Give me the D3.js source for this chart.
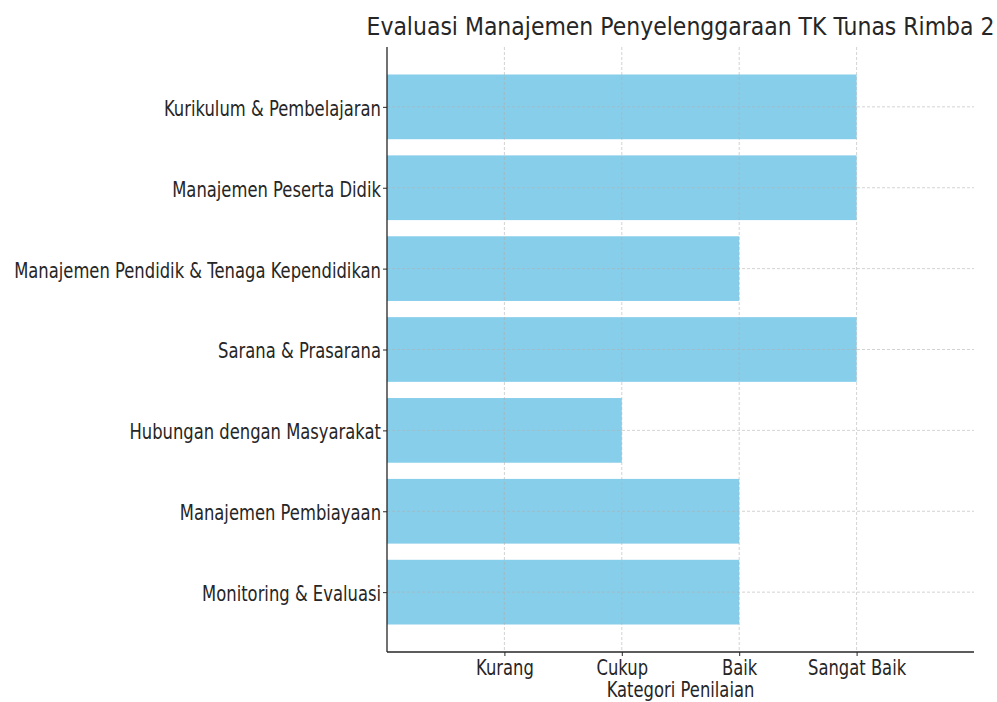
<!DOCTYPE html>
<html>
<head>
<meta charset="utf-8">
<script src="https://cdn.jsdelivr.net/npm/d3@7"></script>
<style>
  body { margin: 0; background: #fff; }
  text { font-family: "DejaVu Sans", sans-serif; fill: #262626; }
</style>
</head>
<body>
<div id="chart"></div>
<script>
const categories = [
  "Kurikulum & Pembelajaran",
  "Manajemen Peserta Didik",
  "Manajemen Pendidik & Tenaga Kependidikan",
  "Sarana & Prasarana",
  "Hubungan dengan Masyarakat",
  "Manajemen Pembiayaan",
  "Monitoring & Evaluasi"
];
const scores = [4, 4, 3, 4, 2, 3, 3];
const tickValues = [1, 2, 3, 4];
const tickLabels = ["Kurang", "Cukup", "Baik", "Sangat Baik"];

const width = 997, height = 702;
const plotLeft = 387, plotRight = 974, plotTop = 47, plotBottom = 652;
// the reference text is squeezed horizontally
const fsLabel = 21, sxLabel = 0.78, sxTitle = 0.88;

const svg = d3.select("#chart").append("svg")
  .attr("width", width)
  .attr("height", height);

const x = d3.scaleLinear().domain([0, 5]).range([plotLeft, plotRight]);
// matplotlib style: bars height 0.8 with 5% margins, first category on top
const y = d3.scaleLinear().domain([-0.74, 6.74]).range([plotTop, plotBottom]);
const barH = y(0.4) - y(-0.4);

// bars
svg.append("g")
  .selectAll("rect")
  .data(scores)
  .join("rect")
  .attr("x", x(0))
  .attr("y", (d, i) => y(i) - barH / 2)
  .attr("width", d => x(d) - x(0))
  .attr("height", barH)
  .attr("fill", "#87ceeb");

// grid (drawn above bars)
const grid = svg.append("g")
  .attr("stroke", "#b0b0b0")
  .attr("stroke-opacity", 0.7)
  .attr("stroke-dasharray", "3,2")
  .attr("stroke-width", 0.8);

grid.selectAll("line.v")
  .data(tickValues)
  .join("line")
  .attr("class", "v")
  .attr("x1", d => x(d)).attr("x2", d => x(d))
  .attr("y1", plotTop).attr("y2", plotBottom);

grid.selectAll("line.h")
  .data(categories)
  .join("line")
  .attr("class", "h")
  .attr("x1", plotLeft).attr("x2", plotRight)
  .attr("y1", (d, i) => y(i)).attr("y2", (d, i) => y(i));

// x axis
const xAxis = d3.axisBottom(x)
  .tickValues(tickValues)
  .tickFormat((d, i) => tickLabels[i])
  .tickSize(4)
  .tickPadding(4)
  .tickSizeOuter(0);

const gx = svg.append("g")
  .attr("transform", `translate(0,${plotBottom})`)
  .call(xAxis);
gx.select(".domain").attr("stroke", "#262626").attr("stroke-width", 1.3)
  .attr("d", `M${plotLeft},0H${plotRight}`);
gx.selectAll(".tick line").attr("stroke", "#262626");
gx.selectAll(".tick text")
  .attr("font-size", fsLabel)
  .attr("font-family", "DejaVu Sans")
  .attr("fill", "#262626")
  .attr("transform", `scale(${sxLabel},1)`);

// y axis
const yAxis = d3.axisLeft(y)
  .tickValues(d3.range(categories.length))
  .tickFormat(i => categories[i])
  .tickSize(4)
  .tickPadding(2)
  .tickSizeOuter(0);

const gy = svg.append("g")
  .attr("transform", `translate(${plotLeft},0)`)
  .call(yAxis);
gy.select(".domain").attr("stroke", "#262626").attr("stroke-width", 1.3)
  .attr("d", `M0,${plotTop}V${plotBottom}`);
gy.selectAll(".tick line").attr("stroke", "#262626");
gy.selectAll(".tick text")
  .attr("font-size", fsLabel)
  .attr("font-family", "DejaVu Sans")
  .attr("fill", "#262626")
  .attr("dy", "0.4em")
  .attr("x", -6 / sxLabel)
  .attr("transform", `scale(${sxLabel},1)`);

// title and label
const cx = (plotLeft + plotRight) / 2;
svg.append("text")
  .attr("transform", `translate(${cx},35) scale(${sxTitle},1)`)
  .attr("text-anchor", "middle")
  .attr("font-size", 25)
  .text("Evaluasi Manajemen Penyelenggaraan TK Tunas Rimba 2");

svg.append("text")
  .attr("transform", `translate(${cx},697) scale(${sxLabel},1)`)
  .attr("text-anchor", "middle")
  .attr("font-size", fsLabel)
  .text("Kategori Penilaian");
</script>
</body>
</html>
